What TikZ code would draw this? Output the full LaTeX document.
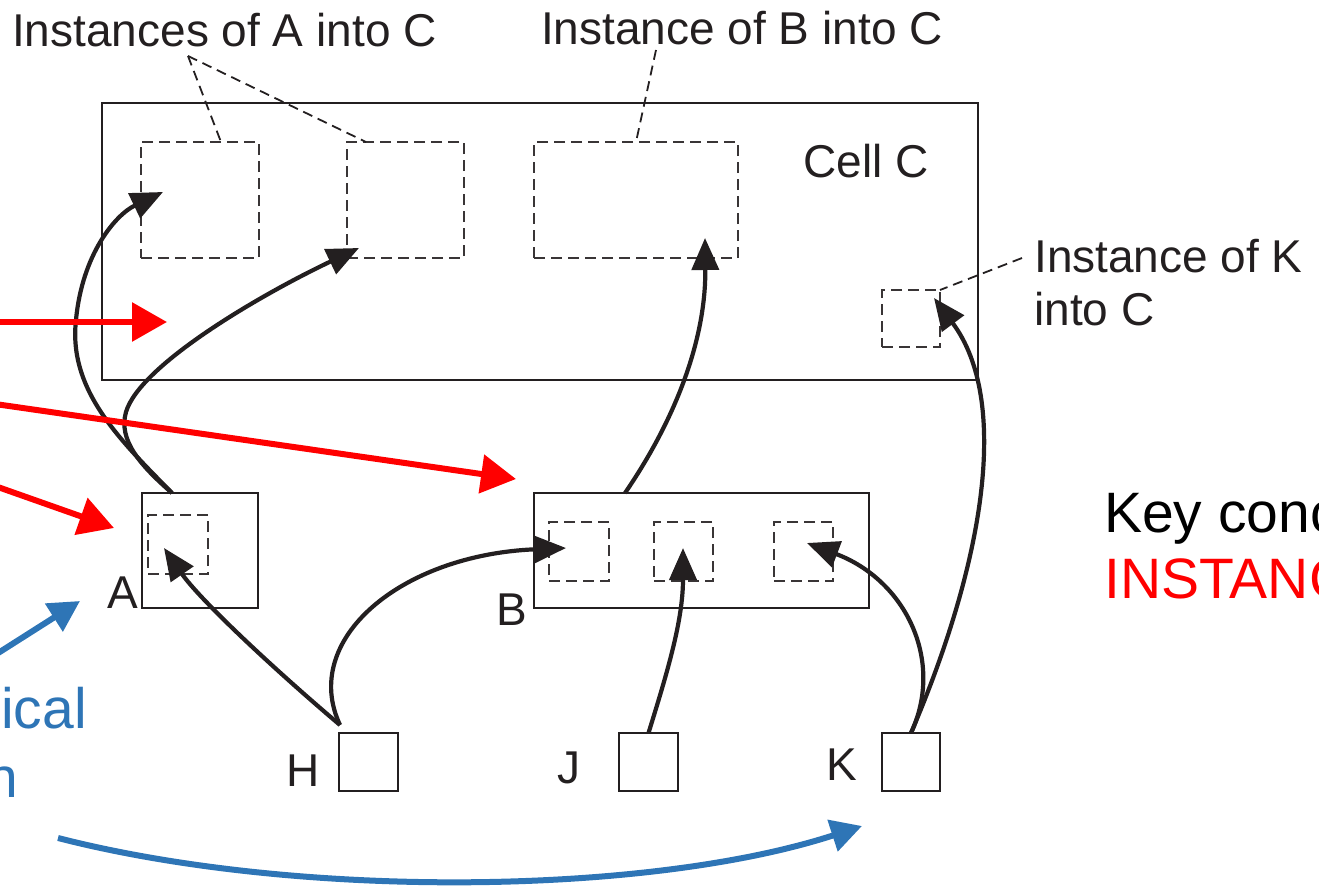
\documentclass[tikz,border=0pt]{standalone}
\usepackage{fontspec}
\setmainfont{Liberation Sans}
\usetikzlibrary{arrows.meta}
\definecolor{ink}{HTML}{231F20}
\definecolor{blu}{HTML}{2E75B6}
\begin{document}
\begin{tikzpicture}[x=1pt,y=-1pt,
 box/.style={draw=ink,line width=2.2pt,inner sep=0,outer sep=0},
 dbox/.style={draw=ink!90,line width=2.4pt,dash pattern=on 11pt off 6pt,inner sep=0,outer sep=0},
 lead/.style={draw=ink,line width=1.8pt,dash pattern=on 10pt off 6pt},
 blk/.style={draw=ink,line width=4.2pt,-{Triangle[length=32pt,width=27pt]}},
 redarr/.style={draw=red,line width=6pt,-{Triangle[length=35pt,width=38pt]}},
 bluarr/.style={draw=blu,line width=6pt,-{Triangle[length=31pt,width=32pt]}},
 lbl/.style={font=\fontsize{46}{50}\selectfont,inner sep=0,anchor=base west,text=ink},
 big/.style={font=\fontsize{57}{64}\selectfont,inner sep=0}]
\useasboundingbox (0,0) rectangle (1319,888);
\clip (0,0) rectangle (1319,888);

% boxes
\node[box,minimum width=876pt,minimum height=277pt] (C) at (540,241.5) {};
\node[dbox,minimum width=118pt,minimum height=116pt] (A1) at (200,200) {};
\node[dbox,minimum width=117pt,minimum height=116pt] (A2) at (405.5,200) {};
\node[dbox,minimum width=204pt,minimum height=116pt] (BC) at (636,200) {};
\node[dbox,minimum width=58pt,minimum height=57pt] (KC) at (911,318.5) {};
\node[box,minimum width=116pt,minimum height=115pt] (A) at (200,550.5) {};
\node[dbox,minimum width=60pt,minimum height=59pt] (Ain) at (178,544.5) {};
\node[box,minimum width=335pt,minimum height=115pt] (B) at (701.5,550.5) {};
\node[dbox,minimum width=60pt,minimum height=59pt] (B1) at (579,551.5) {};
\node[dbox,minimum width=59pt,minimum height=59pt] (B2) at (683.5,551.5) {};
\node[dbox,minimum width=59pt,minimum height=59pt] (B3) at (803.5,551.5) {};
\node[box,minimum width=59pt,minimum height=58pt] (H) at (368.5,762) {};
\node[box,minimum width=59pt,minimum height=58pt] (J) at (648.5,762) {};
\node[box,minimum width=58pt,minimum height=58pt] (K) at (911,762) {};

% labels
\node[lbl] (tA) at (12,47) {Instances of A into C};
\node[lbl] (tB) at (541,45) {Instance of B into C};
\node[lbl] (tC) at (803,177) {Cell C};
\node[lbl] (tK1) at (1034,272) {Instance of K};
\node[lbl] (tK2) at (1034,325) {into C};
\node[lbl] (lA) at (107,608) {A};
\node[lbl] (lB) at (496,625) {B};
\node[lbl] (lH) at (286,786) {H};
\node[lbl] (lJ) at (557,783) {J};
\node[lbl] (lK) at (826,780) {K};
\node[big,anchor=base west] (key1) at (1104,532) {Key conc};
\node[big,anchor=base west,text=red] (key2) at (1104,598) {INSTANC};
\node[big,anchor=base east,text=blu] (bl1) at (87,728) {hical};
\node[big,anchor=base east,text=blu] (bl2) at (18,797) {n};

% leader lines
\coordinate (apA) at (188,56);
\coordinate (apB) at (656,50);
\coordinate (apK) at (1022,258);
\draw[lead] (apA) -- (221,142);
\draw[lead] (apA) -- (366,142);
\draw[lead] (apB) -- (636,142);
\draw[lead] (apK) -- (KC.north east);

% black arrows
\coordinate (Atop) at ([xshift=30pt]A.north west);
\coordinate (Hs) at ([yshift=8pt,xshift=1pt]H.north west);
\coordinate (Btop) at ([xshift=91pt]B.north west);
\coordinate (tA1) at (163,192);
\coordinate (tA2) at (359,248);
\coordinate (tBC) at (705,238);
\coordinate (tKC) at (934,298);
\coordinate (tAin) at (164,548);
\coordinate (tB1) at (566,548);
\coordinate (tB2) at (683,548);
\coordinate (tB3) at (807,543);
\draw[blk] (Atop) .. controls (120,440) and (68,390) .. (76,320) .. controls (82,255) and (115,215) .. (tA1);
\draw[blk] (Atop) .. controls (140,465) and (118,440) .. (126,412) .. controls (140,365) and (260,295) .. (tA2);
\draw[blk] (Btop) .. controls (675,420) and (706,340) .. (tBC);
\draw[blk] (K.north) .. controls (985,560) and (1010,400) .. (tKC);
\draw[blk] (Hs) .. controls (275,670) and (200,600) .. (tAin);
\draw[blk] (Hs) .. controls (300,640) and (400,555) .. (tB1);
\draw[blk] (J.north) .. controls (668,670) and (683,620) .. (tB2);
\draw[blk] (K.north) .. controls (945,660) and (905,580) .. (tB3);

% red arrows
\coordinate (r1s) at (-5,322);
\coordinate (r1t) at (167,322);
\coordinate (r2s) at (-5,404);
\coordinate (r2t) at (516,479);
\coordinate (r3s) at (-5,486);
\coordinate (r3t) at (114,528);
\draw[redarr] (r1s) -- (r1t);
\draw[redarr] (r2s) -- (r2t);
\draw[redarr] (r3s) -- (r3t);

% blue arrows
\coordinate (b1s) at (-5,655);
\coordinate (b1t) at (80,601);
\coordinate (b2s) at (58,838);
\coordinate (b2t) at (862,826);
\draw[bluarr] (b1s) -- (b1t);
\draw[bluarr] (b2s) .. controls (300,900) and (650,895) .. (b2t);
\end{tikzpicture}
\end{document}
